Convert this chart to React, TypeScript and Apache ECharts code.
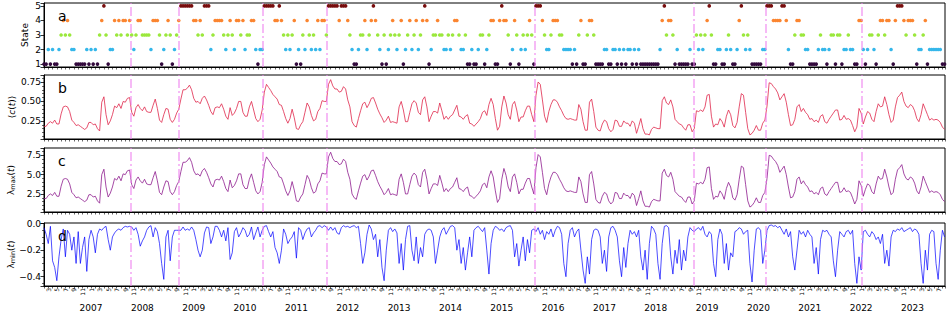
import React, { useEffect, useRef } from 'react';
import * as echarts from 'echarts';

// ---- time grid: months since Jan 2006; data is semi-monthly starting Feb 2006 ----
const BASE_YEAR = 2006;
const START_MONTH = 1;
const STEP = 0.5;
const AXIS_MIN = 1;
const AXIS_MAX = 211.6;

// market state per step (one string per calendar year)
const STATE_ROWS = [
  '1121211234343221111121',
  '212134531224343443432344',
  '333324443123431234555555',
  '443435552344443234324434',
  '233442122555554454323234',
  '121324323242443555554555',
  '432112334234543213123432',
  '341234234234541233433223',
  '234432231121123312344114',
  '544312431232343155543223',
  '444332222121341134431111',
  '221122121212212121111111',
  '112453443121111121132323',
  '453112211232112453232111',
  '112255544445542113443322',
  '111123221233133122322114',
  '421233213443442145554344',
  '4312234122222211',
];
const STATES = STATE_ROWS.join('').split('').map(Number);
const STATE_LEVELS = [1, 2, 3, 4, 5];
const STATE_COLORS = ['#33093d', '#35b7ea', '#9be83c', '#fb8530', '#780d0d'];

// <c(t)>
const MEAN_CORR = [
  0.18,0.18,0.22,0.24,0.22,0.26,0.21,0.21,0.34,0.43,0.44,0.43,0.37,0.26,0.23,0.19,0.20,0.18,0.16,0.14,0.16,0.23,
  0.23,0.20,0.21,0.15,0.12,0.49,0.56,0.33,0.20,0.25,0.33,0.44,0.42,0.47,0.41,0.50,0.49,0.54,0.55,0.36,0.31,0.42,0.46,0.41,
  0.38,0.43,0.37,0.36,0.36,0.45,0.53,0.41,0.26,0.23,0.33,0.41,0.40,0.27,0.23,0.27,0.35,0.40,0.53,0.65,0.65,0.67,0.71,0.65,
  0.54,0.49,0.50,0.47,0.54,0.57,0.52,0.45,0.37,0.33,0.42,0.43,0.42,0.47,0.40,0.31,0.27,0.42,0.32,0.35,0.41,0.50,0.50,0.36,
  0.31,0.31,0.43,0.50,0.39,0.28,0.24,0.27,0.39,0.62,0.72,0.68,0.64,0.59,0.56,0.53,0.46,0.45,0.37,0.28,0.22,0.28,0.40,0.29,
  0.15,0.14,0.20,0.24,0.36,0.48,0.43,0.32,0.25,0.27,0.37,0.41,0.51,0.50,0.50,0.72,0.78,0.70,0.66,0.66,0.62,0.63,0.69,0.66,
  0.52,0.43,0.24,0.19,0.17,0.28,0.38,0.47,0.49,0.42,0.47,0.54,0.55,0.48,0.40,0.34,0.29,0.23,0.26,0.31,0.23,0.24,0.23,0.22,
  0.43,0.50,0.39,0.24,0.24,0.36,0.47,0.51,0.48,0.36,0.33,0.52,0.56,0.43,0.24,0.31,0.37,0.37,0.35,0.48,0.38,0.27,0.31,0.27,
  0.31,0.33,0.39,0.45,0.31,0.30,0.27,0.31,0.33,0.22,0.21,0.18,0.21,0.24,0.28,0.36,0.38,0.32,0.46,0.54,0.46,0.28,0.13,0.18,
  0.43,0.57,0.48,0.33,0.27,0.46,0.50,0.39,0.24,0.30,0.30,0.38,0.44,0.44,0.33,0.24,0.58,0.75,0.72,0.52,0.31,0.23,0.37,0.46,
  0.52,0.52,0.49,0.43,0.38,0.32,0.28,0.27,0.28,0.27,0.26,0.26,0.46,0.40,0.24,0.13,0.13,0.49,0.53,0.37,0.17,0.13,0.12,0.21,
  0.26,0.24,0.15,0.11,0.14,0.26,0.25,0.18,0.18,0.25,0.22,0.22,0.18,0.25,0.22,0.09,0.18,0.28,0.15,0.08,0.08,0.07,0.14,0.17,
  0.16,0.15,0.15,0.51,0.56,0.48,0.46,0.52,0.43,0.27,0.24,0.21,0.20,0.16,0.13,0.20,0.20,0.11,0.15,0.38,0.37,0.39,0.37,0.43,
  0.58,0.59,0.31,0.17,0.21,0.20,0.28,0.24,0.17,0.31,0.39,0.33,0.19,0.16,0.23,0.43,0.60,0.58,0.36,0.15,0.07,0.09,0.13,0.19,
  0.13,0.13,0.22,0.26,0.44,0.74,0.73,0.69,0.66,0.61,0.52,0.56,0.60,0.49,0.33,0.19,0.20,0.27,0.43,0.46,0.37,0.41,0.36,0.33,
  0.27,0.28,0.24,0.26,0.23,0.31,0.33,0.24,0.22,0.27,0.31,0.35,0.39,0.39,0.26,0.27,0.32,0.27,0.28,0.26,0.19,0.11,0.17,0.41,
  0.35,0.21,0.30,0.37,0.35,0.27,0.24,0.37,0.47,0.43,0.44,0.56,0.46,0.33,0.23,0.26,0.43,0.55,0.58,0.62,0.50,0.44,0.42,0.46,
  0.44,0.38,0.28,0.24,0.33,0.47,0.40,0.33,0.26,0.28,0.26,0.27,0.26,0.23,0.17,0.14,
];

// lambda_max(t)
const LAMBDA_MAX = [
  1.9,1.9,2.3,2.5,2.3,2.7,2.2,2.2,3.5,4.4,4.5,4.4,3.8,2.7,2.4,2.0,2.1,1.9,1.7,1.5,1.7,2.4,
  2.4,2.1,2.2,1.6,1.3,5.0,5.7,3.4,2.1,2.6,3.4,4.5,4.3,4.8,4.2,5.1,5.0,5.5,5.6,3.7,3.2,4.3,4.7,4.2,
  3.9,4.4,3.8,3.7,3.7,4.6,5.4,4.2,2.7,2.4,3.4,4.2,4.1,2.8,2.4,2.8,3.6,4.1,5.4,6.6,6.6,6.8,7.2,6.6,
  5.5,5.0,5.1,4.8,5.5,5.8,5.3,4.6,3.8,3.4,4.3,4.4,4.3,4.8,4.1,3.2,2.8,4.3,3.3,3.6,4.2,5.1,5.1,3.7,
  3.2,3.2,4.4,5.1,4.0,2.9,2.5,2.8,4.0,6.3,7.3,6.9,6.5,6.0,5.7,5.4,4.7,4.6,3.8,2.9,2.3,2.9,4.1,3.0,
  1.6,1.5,2.1,2.5,3.7,4.9,4.4,3.3,2.6,2.8,3.8,4.2,5.2,5.1,5.1,7.3,7.9,7.1,6.7,6.7,6.3,6.4,7.0,6.7,
  5.3,4.4,2.5,2.0,1.8,2.9,3.9,4.8,5.0,4.3,4.8,5.5,5.6,4.9,4.1,3.5,3.0,2.4,2.7,3.2,2.4,2.5,2.4,2.3,
  4.4,5.1,4.0,2.5,2.5,3.7,4.8,5.2,4.9,3.7,3.4,5.3,5.7,4.4,2.5,3.2,3.8,3.8,3.6,4.9,3.9,2.8,3.2,2.8,
  3.2,3.4,4.0,4.6,3.2,3.1,2.8,3.2,3.4,2.3,2.2,1.9,2.2,2.5,2.9,3.7,3.9,3.3,4.7,5.5,4.7,2.9,1.4,1.9,
  4.4,5.8,4.9,3.4,2.8,4.7,5.1,4.0,2.5,3.1,3.1,3.9,4.5,4.5,3.4,2.5,5.9,7.6,7.3,5.3,3.2,2.4,3.8,4.7,
  5.3,5.3,5.0,4.4,3.9,3.3,2.9,2.8,2.9,2.8,2.7,2.7,4.7,4.1,2.5,1.4,1.4,5.0,5.4,3.8,1.8,1.4,1.3,2.2,
  2.7,2.5,1.6,1.2,1.5,2.7,2.6,1.9,1.9,2.6,2.3,2.3,1.9,2.6,2.3,1.0,1.9,2.9,1.6,0.9,0.9,0.8,1.5,1.8,
  1.7,1.6,1.6,5.2,5.7,4.9,4.7,5.3,4.4,2.8,2.5,2.2,2.1,1.7,1.4,2.1,2.1,1.2,1.6,3.9,3.8,4.0,3.8,4.4,
  5.9,6.0,3.2,1.8,2.2,2.1,2.9,2.5,1.8,3.2,4.0,3.4,2.0,1.7,2.4,4.4,6.1,5.9,3.7,1.6,0.8,1.0,1.4,2.0,
  1.4,1.4,2.3,2.7,4.5,7.5,7.4,7.0,6.7,6.2,5.3,5.7,6.1,5.0,3.4,2.0,2.1,2.8,4.4,4.7,3.8,4.2,3.7,3.4,
  2.8,2.9,2.5,2.7,2.4,3.2,3.4,2.5,2.3,2.8,3.2,3.6,4.0,4.0,2.7,2.8,3.3,2.8,2.9,2.7,2.0,1.2,1.8,4.2,
  3.6,2.2,3.1,3.8,3.6,2.8,2.5,3.8,4.8,4.4,4.5,5.7,4.7,3.4,2.4,2.7,4.4,5.6,5.9,6.3,5.1,4.5,4.3,4.7,
  4.5,3.9,2.9,2.5,3.4,4.8,4.1,3.4,2.7,2.9,2.7,2.8,2.7,2.4,1.8,1.5,
];

// lambda_min(t)
const LAMBDA_MIN = [
  -0.03,-0.08,-0.15,-0.02,-0.28,-0.33,-0.43,-0.25,-0.12,-0.04,-0.25,-0.05,-0.08,-0.2,-0.1,-0.3,-0.06,-0.3,-0.18,-0.1,-0.36,-0.12,
  -0.05,-0.1,-0.22,-0.08,-0.04,-0.05,-0.03,-0.02,-0.12,-0.2,-0.1,-0.07,-0.05,-0.04,-0.05,-0.03,-0.02,-0.025,-0.02,-0.025,-0.05,-0.03,-0.08,-0.17,
  -0.13,-0.1,-0.05,-0.025,-0.015,-0.1,-0.03,-0.06,-0.15,-0.3,-0.42,-0.1,-0.05,-0.28,-0.1,-0.05,-0.05,-0.05,-0.05,-0.025,-0.05,-0.04,-0.05,-0.025,
  -0.05,-0.12,-0.2,-0.25,-0.2,-0.07,-0.025,-0.03,-0.15,-0.1,-0.02,-0.02,-0.05,-0.1,-0.05,-0.13,-0.03,-0.27,-0.22,-0.06,-0.03,-0.1,-0.07,-0.03,
  -0.05,-0.1,-0.08,-0.025,-0.12,-0.07,-0.025,-0.1,-0.05,-0.02,-0.015,-0.06,-0.1,-0.06,-0.18,-0.22,-0.3,-0.2,-0.04,-0.08,-0.15,-0.12,-0.1,-0.06,
  -0.26,-0.03,-0.05,-0.12,-0.07,-0.04,-0.03,-0.1,-0.07,-0.05,-0.02,-0.015,-0.03,-0.015,-0.025,-0.05,-0.025,-0.05,-0.03,-0.07,-0.08,-0.03,-0.015,-0.025,
  -0.02,-0.03,-0.02,-0.015,-0.03,-0.02,-0.15,-0.3,-0.22,-0.08,-0.01,-0.04,-0.12,-0.08,-0.25,-0.12,-0.33,-0.43,-0.2,-0.05,-0.03,-0.06,-0.04,-0.07,
  -0.3,-0.15,-0.35,-0.12,-0.02,-0.015,-0.2,-0.28,-0.1,-0.3,-0.18,-0.25,-0.08,-0.05,-0.04,-0.05,-0.1,-0.3,-0.2,-0.1,-0.05,-0.03,-0.08,-0.05,
  -0.02,-0.015,-0.03,-0.2,-0.12,-0.3,-0.18,-0.35,-0.22,-0.1,-0.25,-0.05,-0.03,-0.02,-0.04,-0.06,-0.03,-0.2,-0.38,-0.15,-0.05,-0.02,-0.03,-0.05,
  -0.04,-0.06,-0.03,-0.02,-0.015,-0.05,-0.25,-0.15,-0.32,-0.2,-0.1,-0.28,-0.12,-0.22,-0.05,-0.04,-0.06,-0.03,-0.08,-0.05,-0.12,-0.06,-0.08,-0.04,
  -0.1,-0.05,-0.02,-0.03,-0.08,-0.3,-0.4,-0.15,-0.05,-0.03,-0.1,-0.06,-0.04,-0.2,-0.35,-0.45,-0.25,-0.38,-0.12,-0.05,-0.04,-0.05,-0.1,-0.3,
  -0.2,-0.36,-0.1,-0.03,-0.02,-0.05,-0.1,-0.28,-0.4,-0.18,-0.33,-0.15,-0.05,-0.08,-0.06,-0.1,-0.05,-0.25,-0.35,-0.2,-0.42,-0.15,-0.02,-0.04,
  -0.08,-0.3,-0.42,-0.15,-0.02,-0.015,-0.03,-0.25,-0.38,-0.2,-0.3,-0.12,-0.35,-0.2,-0.28,-0.1,-0.03,-0.05,-0.06,-0.04,-0.03,-0.05,-0.02,-0.08,
  -0.1,-0.06,-0.08,-0.3,-0.4,-0.12,-0.04,-0.08,-0.3,-0.15,-0.35,-0.22,-0.25,-0.06,-0.05,-0.03,-0.04,-0.08,-0.06,-0.05,-0.3,-0.44,-0.2,-0.04,
  -0.03,-0.05,-0.3,-0.2,-0.05,-0.015,-0.01,-0.02,-0.015,-0.03,-0.02,-0.05,-0.08,-0.04,-0.1,-0.06,-0.25,-0.35,-0.2,-0.05,-0.08,-0.06,-0.1,-0.05,
  -0.08,-0.1,-0.3,-0.18,-0.38,-0.12,-0.05,-0.06,-0.05,-0.08,-0.1,-0.28,-0.4,-0.2,-0.06,-0.08,-0.1,-0.06,-0.05,-0.08,-0.05,-0.3,-0.45,-0.25,
  -0.35,-0.06,-0.05,-0.08,-0.1,-0.06,-0.08,-0.12,-0.1,-0.15,-0.08,-0.3,-0.2,-0.32,-0.1,-0.05,-0.06,-0.04,-0.05,-0.03,-0.06,-0.05,-0.04,-0.03,
  -0.06,-0.04,-0.05,-0.08,-0.3,-0.45,-0.2,-0.35,-0.08,-0.05,-0.06,-0.3,-0.42,-0.2,-0.05,-0.1,
];

// market events marked with vertical dash-dot lines
const EVENT_DATES = ['2007-10-09', '2008-09-15', '2010-05-06', '2011-08-05', '2015-08-24', '2018-09-24', '2020-02-24', '2022-01-05'];

const PANEL_LETTERS = ['a', 'b', 'c', 'd'];

const FONT = 'DejaVu Sans';

const toMonths = (d: string) => {
  const [y, m, day] = d.split('-').map(Number);
  const dim = new Date(y, m, 0).getDate();
  return (y - BASE_YEAR) * 12 + (m - 1) + (day - 1) / dim;
};
const xOf = (i: number) => START_MONTH + STEP * i;
const isMult = (v: number, k: number) => Math.abs(v / k - Math.round(v / k)) < 1e-6;

const monthLabel = (v: number) => {
  if (!isMult(v, 1)) return '';
  const m = Math.round(v);
  const month = (((m % 12) + 12) % 12) + 1;
  return month % 2 === 1 ? String(month) : '';
};
const yearLabel = (v: number) => {
  if (!isMult(v, 1)) return '';
  const m = Math.round(v);
  return m % 12 === 0 ? String(BASE_YEAR + m / 12) : '';
};

const GRIDS = [
  { left: 44, right: 3, top: 3, height: 64 },
  { left: 44, right: 3, top: 75, height: 64 },
  { left: 44, right: 3, top: 148, height: 64 },
  { left: 44, right: 3, top: 223, height: 63 },
];

const markLine = {
  silent: true,
  symbol: ['none', 'none'],
  label: { show: false },
  lineStyle: { color: 'rgba(238,130,238,0.55)', width: 2, type: [9, 3, 2, 3] },
  data: EVENT_DATES.map((d) => ({ xAxis: toMonths(d) })),
};

const xAxisFor = (gridIndex: number, labels: boolean) => ({
  type: 'value',
  gridIndex,
  min: AXIS_MIN,
  max: AXIS_MAX,
  interval: 1,
  position: 'bottom',
  axisLine: { onZero: false, lineStyle: { color: '#000', width: 1 } },
  axisTick: { length: 2.5, lineStyle: { color: '#000', width: 0.6 } },
  axisLabel: labels
    ? { show: true, rotate: 90, fontSize: 6, margin: 2, color: '#000', fontFamily: FONT, formatter: monthLabel }
    : { show: false },
  splitLine: { show: false },
});

const nameStyle = {
  fontSize: 9,
  fontFamily: FONT,
  color: '#000',
  rich: {
    it: { fontSize: 9, fontFamily: FONT, fontStyle: 'italic', color: '#000' },
    sub: { fontSize: 6.5, fontFamily: FONT, color: '#000', verticalAlign: 'bottom', padding: [3, 0, 0, 0] },
  },
};

const yAxisFor = (gridIndex: number, cfg: any) => ({
  type: 'value',
  gridIndex,
  min: cfg.min,
  max: cfg.max,
  minInterval: cfg.step,
  maxInterval: cfg.step,
  axisLine: { show: true, onZero: false, lineStyle: { color: '#000', width: 1 } },
  axisTick: { show: true, length: 3.5, lineStyle: { color: '#000', width: 0.8 } },
  minorTick: cfg.minor
    ? { show: true, splitNumber: cfg.minor, length: 2, lineStyle: { color: '#000', width: 0.6 } }
    : { show: false },
  axisLabel: { fontSize: 9, fontFamily: FONT, color: '#000', margin: 3, formatter: cfg.fmt },
  splitLine: { show: false },
  minorSplitLine: { show: false },
  name: cfg.name,
  nameLocation: 'middle',
  nameGap: cfg.gap,
  nameMoveOverlap: false,
  nameTextStyle: nameStyle,
});

const option: any = {
  animation: false,
  backgroundColor: '#fff',
  grid: GRIDS.map((g) => ({
    ...g,
    containLabel: false,
    outerBoundsMode: 'none',
    show: true,
    borderColor: '#000',
    borderWidth: 1,
    backgroundColor: 'transparent',
  })),
  xAxis: [
    xAxisFor(0, false),
    xAxisFor(1, false),
    xAxisFor(2, false),
    xAxisFor(3, true),
    {
      type: 'value',
      gridIndex: 3,
      min: AXIS_MIN,
      max: AXIS_MAX,
      interval: 1,
      position: 'bottom',
      axisLine: { show: false, onZero: false },
      axisTick: { show: false },
      axisLabel: { fontSize: 9, fontFamily: FONT, color: '#000', margin: 17, formatter: yearLabel },
      splitLine: { show: false },
    },
  ],
  yAxis: [
    yAxisFor(0, { min: 0.8, max: 5.2, step: 1, gap: 15, name: 'State', fmt: (v: number) => (isMult(v, 1) ? String(Math.round(v)) : '') }),
    yAxisFor(1, { min: 0.017, max: 0.84, step: 0.25, minor: 5, gap: 28, name: '⟨{it|c}({it|t})⟩', fmt: (v: number) => (isMult(v, 0.25) ? v.toFixed(2) : '') }),
    yAxisFor(2, { min: 0.16, max: 8.45, step: 2.5, minor: 5, gap: 28, name: 'λ{sub|max}({it|t})', fmt: (v: number) => (isMult(v, 2.5) ? v.toFixed(1) : '') }),
    yAxisFor(3, {
      min: -0.47, max: 0.005, step: 0.2, minor: 4, gap: 28, name: 'λ{sub|min}({it|t})',
      fmt: (v: number) => (isMult(v, 0.2) ? (v < -1e-9 ? '\u2212' : '') + Math.abs(v).toFixed(1) : ''),
    }),
  ],
  graphic: PANEL_LETTERS.map((t, k) => ({
    type: 'text',
    x: GRIDS[k].left + 14,
    y: GRIDS[k].top + 12.5,
    style: { text: t, fontSize: 14, fontFamily: FONT, fill: '#000', verticalAlign: 'middle', align: 'left' },
    z: 100,
  })),
  series: [
    ...STATE_LEVELS.map((s, k) => ({
      type: 'scatter',
      xAxisIndex: 0,
      yAxisIndex: 0,
      symbol: 'circle',
      symbolSize: 3.6,
      itemStyle: { color: STATE_COLORS[k], opacity: 1 },
      data: STATES.map((st, i) => (st === s ? [xOf(i), s] : null)).filter((p) => p !== null),
      markLine: k === 0 ? markLine : undefined,
      z: 3,
    })),
    {
      type: 'line',
      xAxisIndex: 1,
      yAxisIndex: 1,
      showSymbol: false,
      lineStyle: { color: '#e0264a', width: 0.8 },
      data: MEAN_CORR.map((v, i) => [xOf(i), v]),
      markLine,
    },
    {
      type: 'line',
      xAxisIndex: 2,
      yAxisIndex: 2,
      showSymbol: false,
      lineStyle: { color: '#8e1c8e', width: 0.8 },
      data: LAMBDA_MAX.map((v, i) => [xOf(i), v]),
      markLine,
    },
    {
      type: 'line',
      xAxisIndex: 3,
      yAxisIndex: 3,
      showSymbol: false,
      lineStyle: { color: '#0000ff', width: 0.7 },
      data: LAMBDA_MIN.map((v, i) => [xOf(i), v]),
      markLine,
    },
  ],
};

export default function App() {
  const ref = useRef<HTMLDivElement>(null);
  useEffect(() => {
    if (!ref.current) return;
    const chart = echarts.init(ref.current, undefined, { renderer: 'svg' });
    chart.setOption(option);
    return () => chart.dispose();
  }, []);
  return (
    <div
      ref={ref}
      style={{ position: 'fixed', left: 0, top: 0, width: 948, height: 316, background: '#fff' }}
    />
  );
}
